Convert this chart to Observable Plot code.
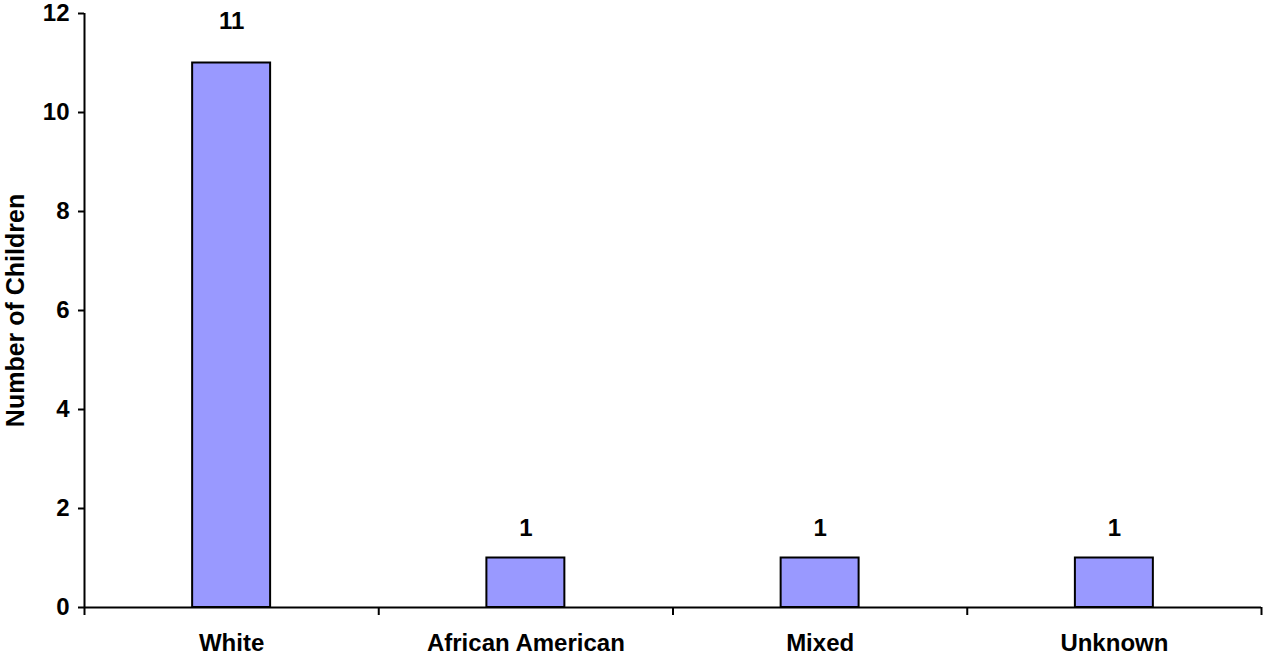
<!DOCTYPE html>
<html>
<head>
<meta charset="utf-8">
<script src="https://cdn.jsdelivr.net/npm/d3@7"></script>
<script src="https://cdn.jsdelivr.net/npm/@observablehq/plot@0.6"></script>
<style>
  html, body { margin: 0; padding: 0; background: #fff; }
  #chart svg { display: block; }
</style>
</head>
<body>
<div id="chart"></div>
<script>
const categories = ["White", "African American", "Mixed", "Unknown"];
const counts = [11, 1, 1, 1];
const yTicks = [0, 2, 4, 6, 8, 10, 12];
const yTitle = "Number of Children";

const data = categories.map((c, i) => ({ category: c, index: i, value: counts[i] }));
const half = 0.1325; // half bar width in category units
const font = "'Liberation Sans', Arial, sans-serif";

const chart = Plot.plot({
  width: 1263,
  height: 656,
  marginLeft: 84,
  marginRight: 2,
  marginTop: 13,
  marginBottom: 49,
  style: { fontFamily: font, fontWeight: "bold", color: "#000", background: "#fff" },
  x: { domain: [0, categories.length] },
  y: { domain: [0, 12] },
  marks: [
    Plot.rectY(data, {
      x1: d => d.index + 0.5 - half,
      x2: d => d.index + 0.5 + half,
      y: "value",
      fill: "#9999FF",
      stroke: "#000",
      strokeWidth: 2
    }),
    Plot.ruleY([0], { stroke: "#000", strokeWidth: 2 }),
    Plot.ruleX([0], { stroke: "#000", strokeWidth: 2 }),
    Plot.axisY({
      ticks: yTicks,
      tickSize: 6,
      tickPadding: 9,
      label: null,
      fontSize: 24,
      fontWeight: "bold",
      stroke: "#000",
      strokeWidth: 2
    }),
    Plot.axisX({
      ticks: d3.range(0, categories.length + 1),
      tickSize: 8,
      tickFormat: () => "",
      label: null,
      stroke: "#000",
      strokeWidth: 2
    }),
    Plot.axisX({
      ticks: categories.map((c, i) => i + 0.5),
      tickSize: 0,
      tickPadding: 26,
      tickFormat: (t) => categories[Math.floor(t)],
      label: null,
      fontSize: 24,
      fontWeight: "bold"
    }),
    Plot.text(data.filter(d => d.value >= 10), {
      x: d => d.index + 0.5,
      y: "value",
      text: d => String(d.value),
      dy: -42,
      fontSize: 24,
      fontWeight: "bold",
      fill: "#000"
    }),
    Plot.text(data.filter(d => d.value < 10), {
      x: d => d.index + 0.5,
      y: "value",
      text: d => String(d.value),
      dy: -30,
      fontSize: 24,
      fontWeight: "bold",
      fill: "#000"
    }),
    Plot.text([yTitle], {
      frameAnchor: "left",
      textAnchor: "middle",
      dx: -69,
      rotate: -90,
      text: d => d,
      fontSize: 25,
      fontWeight: "bold",
      fill: "#000"
    })
  ]
});
document.getElementById("chart").appendChild(chart);
</script>
</body>
</html>
